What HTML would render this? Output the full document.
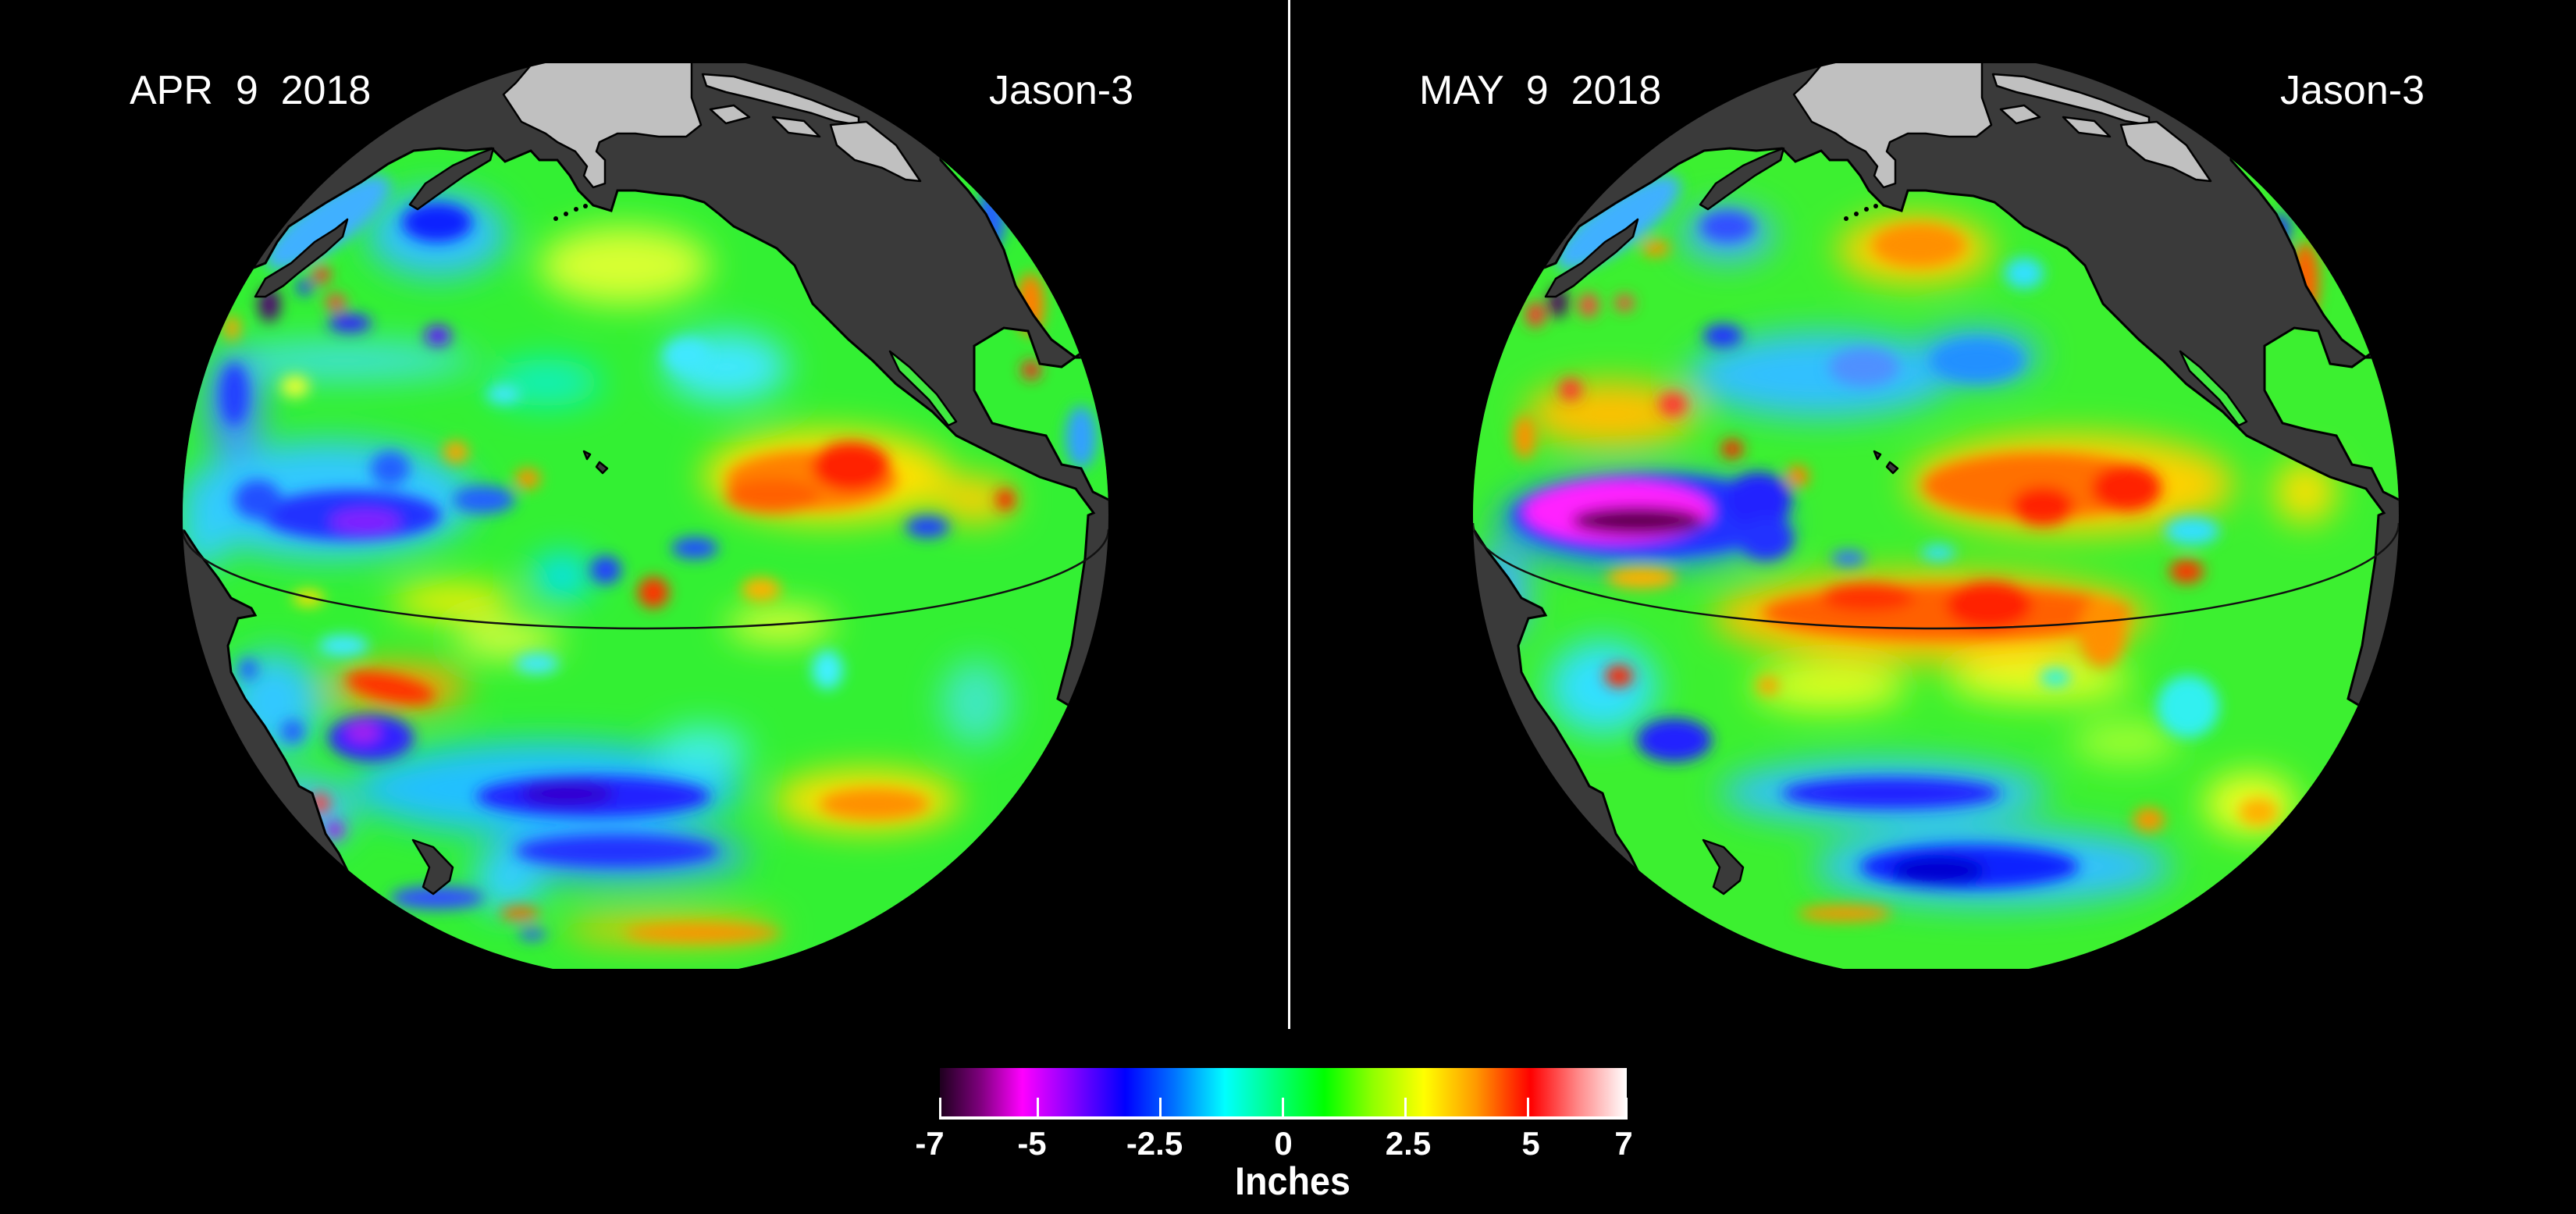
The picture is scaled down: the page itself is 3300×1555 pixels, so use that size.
<!DOCTYPE html>
<html>
<head>
<meta charset="utf-8">
<style>
html,body{margin:0;padding:0;background:#000;}
body{width:3300px;height:1555px;overflow:hidden;}
svg{display:block;}
text{font-family:"Liberation Sans",Arial,sans-serif;}
</style>
</head>
<body>
<svg width="3300" height="1555" viewBox="0 0 3300 1555" xmlns="http://www.w3.org/2000/svg" xmlns:xlink="http://www.w3.org/1999/xlink">
<defs>
  <clipPath id="gc"><circle cx="827" cy="660" r="593"/></clipPath>
  <clipPath id="rc"><rect x="0" y="81" width="1700" height="1160"/></clipPath>
  <clipPath id="oc">
    <path d="M200,420 L320,345 L340,337 L355,310 L370,290 L417,260 L463,233 L497,210 L530,193 L563,190 L597,193 L630,190 L647,207 L680,193 L691,205 L714,205 L730,225 L741,244 L760,263 L783,270 L791,244 L814,244 L844,248 L875,251 L902,259 L921,274 L940,290 L960,300 L995,318 L1018,340 L1041,389 L1087,435 L1118,462 L1148,492 L1194,527 L1225,558 L1263,577 L1301,596 L1332,611 L1378,626 L1401,657 L1394,660 L1390,715 L1381,775 L1373,827 L1364,861 L1355,895 L1380,910 L1500,1000 L1500,1400 L460,1400 L452,1125 L447,1119 L434,1093 L417,1068 L400,1016 L383,1007 L365,973 L339,930 L314,895 L296,861 L292,827 L305,792 L327,788 L322,779 L296,766 L279,740 L253,706 L236,680 L200,680 Z M1248,443 L1286,420 L1317,424 L1332,466 L1360,470 L1395,445 L1440,440 L1440,650 L1400,630 L1385,600 L1360,595 L1340,558 L1301,550 L1271,542 L1248,500 Z M1205,180 L1205,205 L1240,244 L1263,274 L1286,320 L1301,366 L1324,404 L1347,435 L1378,458 L1440,458 L1440,180 Z"/>
  </clipPath>
  <path id="coast" d="M200,420 L320,345 L340,337 L355,310 L370,290 L417,260 L463,233 L497,210 L530,193 L563,190 L597,193 L630,190 L647,207 L680,193 L691,205 L714,205 L730,225 L741,244 L760,263 L783,270 L791,244 L814,244 L844,248 L875,251 L902,259 L921,274 L940,290 L960,300 L995,318 L1018,340 L1041,389 L1087,435 L1118,462 L1148,492 L1194,527 L1225,558 L1263,577 L1301,596 L1332,611 L1378,626 L1401,657 L1394,660 L1390,715 L1381,775 L1373,827 L1364,861 L1355,895 L1380,910 L1500,1000 L1500,1400 L460,1400 L452,1125 L447,1119 L434,1093 L417,1068 L400,1016 L383,1007 L365,973 L339,930 L314,895 L296,861 L292,827 L305,792 L327,788 L322,779 L296,766 L279,740 L253,706 L236,680 L200,680 Z M1248,443 L1286,420 L1317,424 L1332,466 L1360,470 L1395,445 L1440,440 L1440,650 L1400,630 L1385,600 L1360,595 L1340,558 L1301,550 L1271,542 L1248,500 Z M1205,180 L1205,205 L1240,244 L1263,274 L1286,320 L1301,366 L1324,404 L1347,435 L1378,458 L1440,458 L1440,180 Z" fill="none" stroke="#000" stroke-width="3"/>
  <filter id="b1" filterUnits="userSpaceOnUse" x="-200" y="-200" width="2000" height="2000"><feGaussianBlur stdDeviation="22"/></filter>
  <filter id="b2" filterUnits="userSpaceOnUse" x="-200" y="-200" width="2000" height="2000"><feGaussianBlur stdDeviation="9"/></filter>
  <g id="land" stroke="#000" stroke-width="2.5" stroke-linejoin="round">
    <path d="M661,106 L645,121 L668,156 L699,171 L714,182 L737,194 L752,213 L748,225 L760,240 L775,235 L775,205 L764,194 L768,182 L791,171 L814,171 L844,175 L879,175 L898,160 L886,125 L886,60 L700,60 Z" fill="#c0c0c0"/>
    <path d="M900,95 L940,98 L975,108 L1010,118 L1040,128 L1070,140 L1100,150 L1100,160 L1070,155 L1040,145 L1000,135 L960,125 L930,118 L905,110 Z" fill="#c0c0c0"/>
    <path d="M910,140 L940,135 L960,150 L930,158 Z" fill="#c0c0c0"/>
    <path d="M990,150 L1030,155 L1050,175 L1010,170 Z" fill="#c0c0c0"/>
    <path d="M1064,160 L1110,156 L1148,186 L1179,232 L1160,230 L1130,215 L1095,205 L1072,186 Z" fill="#c0c0c0"/>
    <path d="M525,262 L545,235 L580,212 L613,197 L632,190 L628,205 L595,225 L560,250 L535,268 Z" fill="#3a3a3a"/>
    <path d="M327,380 L340,357 L373,337 L403,310 L430,293 L445,281 L439,303 L417,323 L382,350 L363,366 L340,380 Z" fill="#3a3a3a"/>
    <path d="M1140,450 L1165,470 L1200,505 L1225,540 L1215,545 L1190,512 L1152,475 Z" fill="#40e840"/>
    <path d="M529,1076 L555,1085 L580,1111 L576,1128 L555,1145 L542,1136 L550,1111 Z" fill="#3a3a3a"/>
    <path d="M748,578 L756,582 L752,588 Z" fill="#3a3a3a"/>
    <path d="M768,592 L778,600 L772,606 L764,598 Z" fill="#3a3a3a"/>
  </g>
  <g id="aleut" fill="#000">
    <circle cx="712" cy="280" r="3"/><circle cx="725" cy="274" r="3"/><circle cx="738" cy="268" r="3"/><circle cx="750" cy="264" r="3"/>
  </g>
  <linearGradient id="cb" x1="0" y1="0" x2="1" y2="0">
    <stop offset="0" stop-color="#1e001e"/>
    <stop offset="0.06" stop-color="#80007f"/>
    <stop offset="0.12" stop-color="#ff00ff"/>
    <stop offset="0.19" stop-color="#8a00ff"/>
    <stop offset="0.27" stop-color="#0000ff"/>
    <stop offset="0.34" stop-color="#0070ff"/>
    <stop offset="0.415" stop-color="#00ffff"/>
    <stop offset="0.56" stop-color="#00ff00"/>
    <stop offset="0.63" stop-color="#90ff00"/>
    <stop offset="0.705" stop-color="#ffff00"/>
    <stop offset="0.78" stop-color="#ff9a00"/>
    <stop offset="0.86" stop-color="#ff0000"/>
    <stop offset="0.93" stop-color="#ff8a8a"/>
    <stop offset="1" stop-color="#ffffff"/>
  </linearGradient>
</defs>

<rect x="0" y="0" width="3300" height="1555" fill="#000"/>

<!-- LEFT GLOBE -->
<g>
 <g clip-path="url(#rc)"><g clip-path="url(#gc)">
  <rect x="0" y="0" width="1700" height="1400" fill="#3a3a3a"/>
  <g clip-path="url(#oc)">
   <rect x="0" y="0" width="1700" height="1400" fill="#33f033"/>
   <g filter="url(#b1)">
    <ellipse cx="560" cy="300" rx="90" ry="55" fill="#30c0ff"/>
    <ellipse cx="800" cy="340" rx="110" ry="50" fill="#d8ff30"/>
    <ellipse cx="930" cy="470" rx="80" ry="45" fill="#40e8ff"/>
    <ellipse cx="700" cy="490" rx="70" ry="30" fill="#10f0c0"/>
    <ellipse cx="440" cy="462" rx="170" ry="24" fill="#40e0e0"/>
    <ellipse cx="420" cy="640" rx="190" ry="75" fill="#30c8ff"/>
    <ellipse cx="1060" cy="610" rx="160" ry="60" fill="#ffe000"/>
    <ellipse cx="1250" cy="640" rx="50" ry="30" fill="#ffd000"/>
    <ellipse cx="580" cy="770" rx="80" ry="22" fill="#ffee00"/>
    <ellipse cx="720" cy="738" rx="40" ry="28" fill="#00e0ff"/>
    <ellipse cx="510" cy="880" rx="90" ry="30" fill="#ffa000"/>
    <ellipse cx="700" cy="1010" rx="250" ry="60" fill="#20c0ff"/>
    <ellipse cx="790" cy="1095" rx="170" ry="35" fill="#30a0ff"/>
    <ellipse cx="1110" cy="1025" rx="120" ry="40" fill="#ffe000"/>
    <ellipse cx="350" cy="900" rx="60" ry="65" fill="#30c8ff"/>
    <ellipse cx="390" cy="1040" rx="60" ry="45" fill="#40c0ff"/>
    <ellipse cx="650" cy="1128" rx="45" ry="40" fill="#30d0ff"/>
    <ellipse cx="650" cy="820" rx="70" ry="22" fill="#e0ff40"/>
    <ellipse cx="1000" cy="800" rx="70" ry="22" fill="#e8ff30"/>
    <ellipse cx="900" cy="960" rx="60" ry="30" fill="#40f0e0"/>
    <ellipse cx="1250" cy="900" rx="45" ry="55" fill="#40e8c0"/>
    <ellipse cx="300" cy="520" rx="35" ry="70" fill="#4090ff"/>
    <ellipse cx="860" cy="1190" rx="140" ry="18" fill="#ffc000"/>
    <ellipse cx="260" cy="690" rx="30" ry="40" fill="#30d0ff"/>
   </g>
   <g filter="url(#b2)">
    <ellipse cx="420" cy="285" rx="95" ry="32" fill="#40b0ff" transform="rotate(-35 420 285)"/>
    <ellipse cx="560" cy="285" rx="45" ry="25" fill="#1020ff"/>
    <ellipse cx="345" cy="390" rx="14" ry="22" fill="#500070"/>
    <ellipse cx="412" cy="352" rx="11" ry="11" fill="#ff3030"/>
    <ellipse cx="390" cy="368" rx="10" ry="10" fill="#2030ff"/>
    <ellipse cx="430" cy="387" rx="13" ry="10" fill="#ff4040"/>
    <ellipse cx="448" cy="414" rx="28" ry="12" fill="#3020ff"/>
    <ellipse cx="561" cy="430" rx="17" ry="13" fill="#6010ff"/>
    <ellipse cx="300" cy="505" rx="18" ry="40" fill="#2040ff"/>
    <ellipse cx="297" cy="420" rx="10" ry="16" fill="#ffa000"/>
    <ellipse cx="880" cy="455" rx="30" ry="22" fill="#40e8ff"/>
    <ellipse cx="645" cy="505" rx="22" ry="12" fill="#40e8ff"/>
    <ellipse cx="378" cy="495" rx="18" ry="14" fill="#e8ff30"/>
    <ellipse cx="450" cy="660" rx="115" ry="32" fill="#2030ff"/>
    <ellipse cx="468" cy="668" rx="45" ry="16" fill="#8020ff"/>
    <ellipse cx="620" cy="640" rx="40" ry="18" fill="#2060ff"/>
    <ellipse cx="500" cy="600" rx="25" ry="22" fill="#2060ff"/>
    <ellipse cx="330" cy="640" rx="30" ry="25" fill="#2050ff"/>
    <ellipse cx="1040" cy="615" rx="110" ry="38" fill="#ff8000"/>
    <ellipse cx="1090" cy="598" rx="50" ry="32" fill="#ff2000"/>
    <ellipse cx="990" cy="635" rx="60" ry="22" fill="#ff6000"/>
    <ellipse cx="584" cy="579" rx="16" ry="14" fill="#ffa000"/>
    <ellipse cx="676" cy="613" rx="16" ry="13" fill="#ff9000"/>
    <ellipse cx="1188" cy="675" rx="28" ry="14" fill="#2040ff"/>
    <ellipse cx="1288" cy="640" rx="12" ry="14" fill="#ff2000"/>
    <ellipse cx="776" cy="730" rx="20" ry="18" fill="#2040ff"/>
    <ellipse cx="890" cy="702" rx="30" ry="14" fill="#2050ff"/>
    <ellipse cx="837" cy="759" rx="20" ry="20" fill="#ff3000"/>
    <ellipse cx="975" cy="755" rx="25" ry="15" fill="#ffb000"/>
    <ellipse cx="395" cy="766" rx="20" ry="10" fill="#ffe000"/>
    <ellipse cx="440" cy="827" rx="32" ry="14" fill="#40e8ff"/>
    <ellipse cx="688" cy="850" rx="28" ry="13" fill="#40e8ff"/>
    <ellipse cx="1060" cy="858" rx="20" ry="25" fill="#40f0ff"/>
    <ellipse cx="500" cy="881" rx="58" ry="17" fill="#ff3000" transform="rotate(12 500 881)"/>
    <ellipse cx="475" cy="945" rx="55" ry="30" fill="#3020ff"/>
    <ellipse cx="465" cy="938" rx="22" ry="14" fill="#a020f0"/>
    <ellipse cx="760" cy="1020" rx="150" ry="26" fill="#2020ff"/>
    <ellipse cx="727" cy="1017" rx="60" ry="16" fill="#3000d0"/>
    <ellipse cx="790" cy="1090" rx="130" ry="20" fill="#2030ff"/>
    <ellipse cx="1120" cy="1030" rx="70" ry="20" fill="#ff9000"/>
    <ellipse cx="900" cy="1195" rx="100" ry="11" fill="#ff9000"/>
    <ellipse cx="666" cy="1170" rx="25" ry="8" fill="#ff6000"/>
    <ellipse cx="682" cy="1197" rx="18" ry="7" fill="#3050ff"/>
    <ellipse cx="560" cy="1150" rx="60" ry="15" fill="#3050ff"/>
    <ellipse cx="375" cy="937" rx="15" ry="15" fill="#2060ff"/>
    <ellipse cx="318" cy="857" rx="12" ry="14" fill="#2060ff"/>
    <ellipse cx="410" cy="1029" rx="13" ry="13" fill="#ff4040"/>
    <ellipse cx="429" cy="1063" rx="12" ry="12" fill="#a020f0"/>
    <ellipse cx="1270" cy="280" rx="18" ry="40" fill="#2060ff"/>
    <ellipse cx="1320" cy="390" rx="18" ry="40" fill="#ff8000"/>
    <ellipse cx="1321" cy="474" rx="12" ry="12" fill="#ff2020"/>
    <ellipse cx="1385" cy="560" rx="20" ry="40" fill="#30a0ff"/>
   </g>
  </g>
  <use xlink:href="#coast" href="#coast"/>
  <use xlink:href="#land" href="#land"/>
  <use xlink:href="#aleut" href="#aleut"/>
  <path d="M234,678 A593,127 0 0 0 1420,678" fill="none" stroke="#111" stroke-width="2.5"/>
 </g></g>
</g>

<!-- RIGHT GLOBE -->
<g transform="translate(1653,0)">
 <g clip-path="url(#rc)"><g clip-path="url(#gc)">
  <rect x="0" y="0" width="1700" height="1400" fill="#3a3a3a"/>
  <g clip-path="url(#oc)">
   <rect x="0" y="0" width="1700" height="1400" fill="#3cf030"/>
   <g filter="url(#b1)">
    <ellipse cx="680" cy="480" rx="170" ry="55" fill="#30c0ff"/>
    <ellipse cx="880" cy="455" rx="80" ry="35" fill="#30b0ff"/>
    <ellipse cx="560" cy="300" rx="60" ry="35" fill="#40b0ff"/>
    <ellipse cx="800" cy="320" rx="100" ry="45" fill="#ffd000"/>
    <ellipse cx="410" cy="530" rx="110" ry="42" fill="#ffc000"/>
    <ellipse cx="450" cy="668" rx="185" ry="58" fill="#2080ff"/>
    <ellipse cx="1000" cy="620" rx="210" ry="65" fill="#ffd000"/>
    <ellipse cx="1300" cy="630" rx="40" ry="40" fill="#ffe000"/>
    <ellipse cx="820" cy="790" rx="280" ry="58" fill="#ffc000"/>
    <ellipse cx="690" cy="880" rx="100" ry="30" fill="#e0ff20"/>
    <ellipse cx="960" cy="870" rx="120" ry="28" fill="#e8ff20"/>
    <ellipse cx="1070" cy="950" rx="70" ry="28" fill="#a0ff30"/>
    <ellipse cx="400" cy="880" rx="70" ry="60" fill="#30e0ff"/>
    <ellipse cx="760" cy="1015" rx="210" ry="42" fill="#30c0ff"/>
    <ellipse cx="900" cy="1110" rx="230" ry="50" fill="#30c0ff"/>
    <ellipse cx="1230" cy="1030" rx="60" ry="40" fill="#f0ff20"/>
    <ellipse cx="270" cy="760" rx="35" ry="60" fill="#40b0ff"/>
   </g>
   <g filter="url(#b2)">
    <ellipse cx="420" cy="285" rx="95" ry="32" fill="#40b0ff" transform="rotate(-35 420 285)"/>
    <ellipse cx="560" cy="290" rx="35" ry="20" fill="#3050ff"/>
    <ellipse cx="554" cy="430" rx="25" ry="15" fill="#2030ff"/>
    <ellipse cx="735" cy="470" rx="45" ry="25" fill="#5090ff"/>
    <ellipse cx="880" cy="462" rx="60" ry="28" fill="#2090ff"/>
    <ellipse cx="805" cy="314" rx="60" ry="28" fill="#ff9000"/>
    <ellipse cx="940" cy="350" rx="25" ry="20" fill="#30e0ff"/>
    <ellipse cx="468" cy="318" rx="18" ry="10" fill="#ff9000"/>
    <ellipse cx="314" cy="403" rx="12" ry="16" fill="#ff3030"/>
    <ellipse cx="343" cy="387" rx="12" ry="20" fill="#500060"/>
    <ellipse cx="382" cy="391" rx="12" ry="15" fill="#ff4040"/>
    <ellipse cx="428" cy="388" rx="12" ry="10" fill="#ff4040"/>
    <ellipse cx="359" cy="499" rx="14" ry="14" fill="#ff3030"/>
    <ellipse cx="490" cy="518" rx="18" ry="15" fill="#ff3030"/>
    <ellipse cx="566" cy="575" rx="14" ry="12" fill="#ff2000"/>
    <ellipse cx="300" cy="560" rx="14" ry="28" fill="#ff9000"/>
    <ellipse cx="460" cy="660" rx="175" ry="52" fill="#2030ff"/>
    <ellipse cx="420" cy="655" rx="120" ry="40" fill="#ff20ff"/>
    <ellipse cx="445" cy="667" rx="85" ry="18" fill="#600050"/>
    <ellipse cx="600" cy="640" rx="42" ry="35" fill="#2020ff"/>
    <ellipse cx="610" cy="690" rx="35" ry="28" fill="#2030ff"/>
    <ellipse cx="960" cy="622" rx="150" ry="42" fill="#ff7000"/>
    <ellipse cx="964" cy="648" rx="40" ry="25" fill="#ff2000"/>
    <ellipse cx="1071" cy="625" rx="45" ry="30" fill="#ff2000"/>
    <ellipse cx="650" cy="610" rx="14" ry="14" fill="#ff8000"/>
    <ellipse cx="1155" cy="680" rx="35" ry="18" fill="#30e0ff"/>
    <ellipse cx="1148" cy="732" rx="22" ry="15" fill="#ff3000"/>
    <ellipse cx="715" cy="715" rx="22" ry="10" fill="#3070ff"/>
    <ellipse cx="830" cy="708" rx="22" ry="10" fill="#30e0ff"/>
    <ellipse cx="840" cy="785" rx="235" ry="35" fill="#ff6000"/>
    <ellipse cx="895" cy="775" rx="55" ry="30" fill="#ff2000"/>
    <ellipse cx="740" cy="765" rx="60" ry="18" fill="#ff3000"/>
    <ellipse cx="1040" cy="810" rx="30" ry="45" fill="#ff9000"/>
    <ellipse cx="450" cy="740" rx="45" ry="14" fill="#ffb000"/>
    <ellipse cx="421" cy="866" rx="18" ry="14" fill="#ff2000"/>
    <ellipse cx="612" cy="878" rx="14" ry="12" fill="#ffa000"/>
    <ellipse cx="980" cy="868" rx="20" ry="12" fill="#30f0e0"/>
    <ellipse cx="1150" cy="905" rx="40" ry="40" fill="#30f0f0"/>
    <ellipse cx="492" cy="948" rx="48" ry="28" fill="#2020ff"/>
    <ellipse cx="770" cy="1016" rx="140" ry="20" fill="#2020ff"/>
    <ellipse cx="870" cy="1110" rx="140" ry="28" fill="#1020ff"/>
    <ellipse cx="830" cy="1115" rx="60" ry="18" fill="#0000d0"/>
    <ellipse cx="1100" cy="1050" rx="20" ry="15" fill="#ff9000"/>
    <ellipse cx="1240" cy="1040" rx="25" ry="18" fill="#ffb000"/>
    <ellipse cx="710" cy="1170" rx="60" ry="10" fill="#ff9000"/>
    <ellipse cx="1300" cy="360" rx="18" ry="50" fill="#ff6000"/>
    <ellipse cx="1269" cy="293" rx="12" ry="20" fill="#2030ff"/>
    <ellipse cx="250" cy="770" rx="15" ry="50" fill="#2040ff"/>
   </g>
  </g>
  <use xlink:href="#coast" href="#coast"/>
  <use xlink:href="#land" href="#land"/>
  <use xlink:href="#aleut" href="#aleut"/>
  <path d="M234,670 A593,135 0 0 0 1420,670" fill="none" stroke="#111" stroke-width="2.5"/>
 </g></g>
</g>

<!-- Divider -->
<rect x="1650" y="0" width="3" height="1318" fill="#fff"/>

<!-- Titles -->
<text x="166" y="133" font-size="52" fill="#fff" style="white-space:pre" xml:space="preserve">APR  9  2018</text>
<text x="1452" y="133" font-size="52" fill="#fff" text-anchor="end">Jason-3</text>
<text x="1818" y="133" font-size="52" fill="#fff" style="white-space:pre" xml:space="preserve">MAY  9  2018</text>
<text x="3106" y="133" font-size="52" fill="#fff" text-anchor="end">Jason-3</text>

<!-- Colorbar -->
<rect x="1204" y="1368" width="880" height="64" fill="url(#cb)"/>
<rect x="1203" y="1430" width="882" height="4" fill="#fff"/>
<g fill="#fff">
  <rect x="1203" y="1406" width="3" height="26"/>
  <rect x="1328" y="1406" width="3" height="26"/>
  <rect x="1485" y="1406" width="3" height="26"/>
  <rect x="1642" y="1406" width="3" height="26"/>
  <rect x="1799" y="1406" width="3" height="26"/>
  <rect x="1956" y="1406" width="3" height="26"/>
  <rect x="2082" y="1406" width="3" height="26"/>
</g>
<g font-size="42" font-weight="bold" fill="#fff" text-anchor="middle">
  <text x="1191" y="1479">-7</text>
  <text x="1322" y="1479">-5</text>
  <text x="1479" y="1479">-2.5</text>
  <text x="1644" y="1479">0</text>
  <text x="1804" y="1479">2.5</text>
  <text x="1961" y="1479">5</text>
  <text x="2080" y="1479">7</text>
</g>
<text x="1656" y="1530" font-size="50" font-weight="bold" fill="#fff" text-anchor="middle" textLength="148" lengthAdjust="spacingAndGlyphs">Inches</text>
</svg>
</body>
</html>
